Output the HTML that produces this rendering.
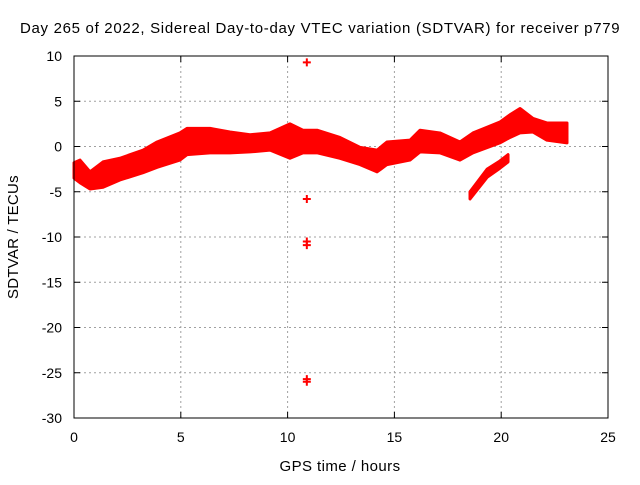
<!DOCTYPE html>
<html><head><meta charset="utf-8"><style>
body{margin:0;background:#fff}
svg text{font-family:"Liberation Sans",sans-serif;font-size:14px;fill:#000}
svg text.big{font-size:15px;letter-spacing:0.4px}
</style></head><body>
<svg width="640" height="480">
<rect width="640" height="480" fill="#fff"/>
<g id="grid"></g>
<g id="marks"></g>
<rect x="74" y="56" width="534" height="362" fill="none" stroke="#000" stroke-width="1"/>
<g id="ticks"></g>
<text class="big" x="320" y="33" text-anchor="middle" textLength="600">Day 265 of 2022, Sidereal Day-to-day VTEC variation (SDTVAR) for receiver p779</text>
<text class="big" x="340" y="471" text-anchor="middle" textLength="121">GPS time / hours</text>
<text class="big" transform="translate(18,237) rotate(-90)" text-anchor="middle" textLength="124">SDTVAR / TECUs</text>
</svg>
<script>
const xTicks=[0,5,10,15,20,25];
const yTicks=[10,5,0,-5,-10,-15,-20,-25,-30];
const mainHours=[0,0.28,0.75,1.36,2.15,3.23,3.89,4.96,5.29,6.37,7.30,8.24,9.18,10.11,10.72,11.38,12.45,13.39,14.19,14.65,15.73,16.20,17.13,18.07,18.68,19.94,20.41,20.88,21.49,22.14,23.08];
const mainTop=[-1.8,-1.5,-2.8,-1.7,-1.3,-0.4,0.5,1.5,2.0,2.0,1.6,1.3,1.5,2.5,1.8,1.8,1.0,-0.1,-0.4,0.5,0.7,1.8,1.5,0.5,1.5,2.7,3.5,4.2,3.1,2.6,2.6];
const mainBottom=[-3.5,-4.0,-4.7,-4.5,-3.7,-2.9,-2.3,-1.5,-0.9,-0.7,-0.7,-0.6,-0.4,-1.3,-0.7,-0.7,-1.3,-2.0,-2.8,-2.0,-1.5,-0.6,-0.7,-1.5,-0.7,0.4,1.0,1.5,1.6,0.7,0.4];
const lowHours=[18.54,19.34,19.94,20.32];
const lowTop=[-5.0,-2.5,-1.6,-0.9];
const lowBottom=[-5.8,-3.4,-2.4,-1.7];
const outHours=[10.9,10.9,10.9,10.9,10.9,10.9];
const outValues=[9.3,-5.8,-10.5,-10.9,-25.7,-26.0];
const X=h=>74+h*(534/25);
const Y=v=>56+(10-v)*(362/40);
const NS="http://www.w3.org/2000/svg";
const grid=document.getElementById('grid'),marks=document.getElementById('marks'),ticks=document.getElementById('ticks');
function mk(tag,at,par){const e=document.createElementNS(NS,tag);for(const k in at)e.setAttribute(k,at[k]);par.appendChild(e);return e;}
xTicks.forEach(t=>{const x=X(t);
 if(t>0&&t<25){const l=mk('line',{x1:x,x2:x,y1:56,y2:418,stroke:'#a0a0a0','stroke-dasharray':'2,3'},grid);
 
 }
 mk('line',{x1:x,x2:x,y1:418,y2:412,stroke:'#000'},ticks);mk('line',{x1:x,x2:x,y1:56,y2:62,stroke:'#000'},ticks);
 const tx=mk('text',{x:x,y:442,'text-anchor':'middle'},ticks);tx.textContent=t;
 
 });
yTicks.forEach(t=>{const y=Y(t);
 if(t<10&&t>-30){const l=mk('line',{x1:74,x2:608,y1:y,y2:y,stroke:'#a0a0a0','stroke-dasharray':'2,3'},grid);
 
 }
 mk('line',{x1:74,x2:80,y1:y,y2:y,stroke:'#000'},ticks);mk('line',{x1:608,x2:602,y1:y,y2:y,stroke:'#000'},ticks);
 const tx=mk('text',{x:62,y:y+5,'text-anchor':'end'},ticks);tx.textContent=t;
 
 });
function band(hs,tp,bt,name){
 let pts=hs.map((h,i)=>X(h)+','+Y(tp[i]));
 for(let i=hs.length-1;i>=0;i--)pts.push(X(hs[i])+','+Y(bt[i]));
 const p=mk('polygon',{points:pts.join(' '),fill:'#ff0000',stroke:'#ff0000','stroke-width':3,'stroke-linejoin':'round'},marks);
 
 }
band(mainHours,mainTop,mainBottom,'main-series-band');
band(lowHours,lowTop,lowBottom,'lower-series-band');
outHours.forEach((h,i)=>{const x=X(h),y=Y(outValues[i]);
 const g=mk('path',{d:`M${x-4},${y}H${x+4}M${x},${y-4}V${y+4}`,stroke:'#ff0000','stroke-width':2},marks);
 
 });
</script>
</body></html>
